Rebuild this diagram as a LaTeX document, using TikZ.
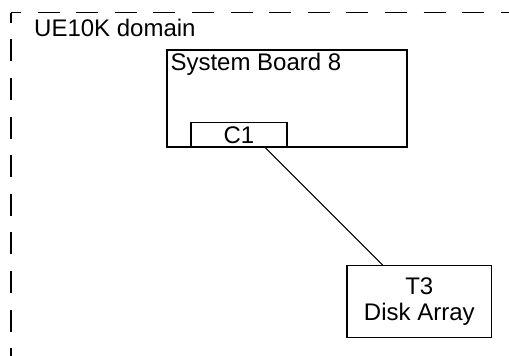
\documentclass[tikz,border=0pt]{standalone}
\usepackage{fontspec}
\setmainfont{Liberation Sans}
\tikzset{
	box/.style	= {draw, line width=1.4pt, inner sep=0pt},
	wire/.style	= {line width=1pt},
	border/.style	= {line width=1.3pt, dash pattern=on 22pt off 16.6pt, dash phase=12pt}
}
\begin{document}
\begin{tikzpicture}[x=1pt, y=-1pt, font=\fontsize{24}{26.5}\selectfont]
	\useasboundingbox (0,0) rectangle (509,356);
	% domain border, only top and left are visible
	\coordinate (corner) at (11,12.7);
	\coordinate (TR) at (530,12.7);
	\coordinate (BL) at (11,370);
	\draw[border] (corner) -- (TR);
	\draw[border] (corner) -- (BL);
	\node (dom) at (34,36.5)	[anchor=base west, inner sep=0pt]	{UE10K domain};
	\node (SB) at (287,98.5)	[box, minimum width=240pt, minimum height=97pt,
		label={[anchor=north west, inner xsep=4pt, inner ysep=3.5pt]north west:System Board 8}]	{};
	\node (C1) at (239,134.9)	[box, minimum width=96pt, minimum height=24.3pt]	{C1};
	\node (T3) at (419.3,301.7)	[box, minimum width=144.7pt, minimum height=72pt, align=center]	{T3\\Disk Array};
	\draw[wire] (C1.-26.8) -- (T3.135);
\end{tikzpicture}
\end{document}
